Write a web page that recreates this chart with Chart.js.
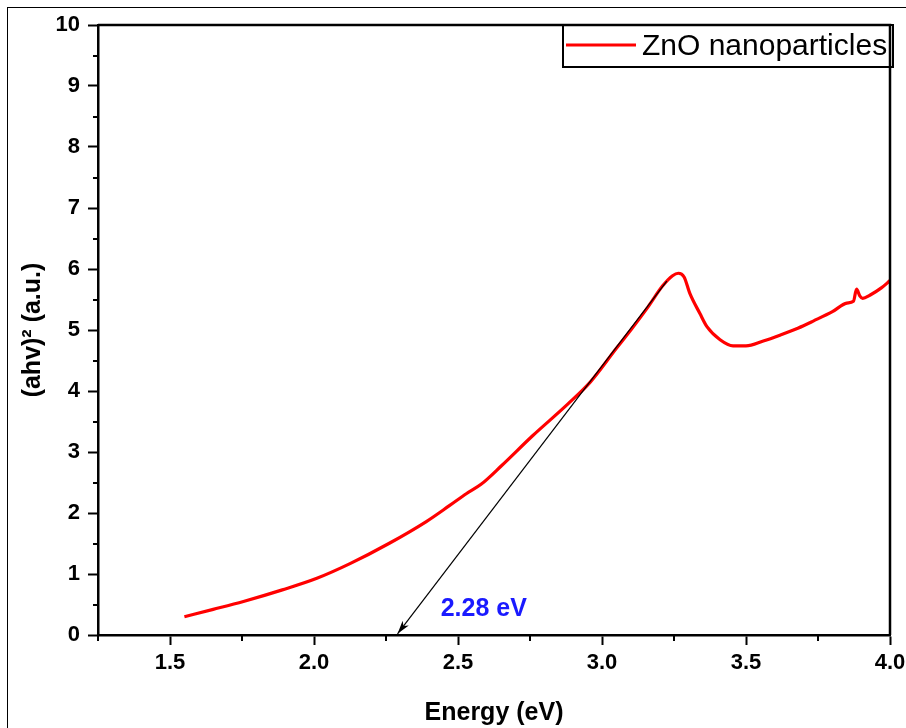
<!DOCTYPE html>
<html lang="en">
<head>
    <meta charset="utf-8" />
    <title>ZnO Tauc plot</title>
    <style>
        html, body {
            margin: 0;
            padding: 0;
            background: #fff;
            overflow: hidden;
        }
        .frame {
            position: absolute;
            left: 7px;
            top: 7px;
            width: 1000px;
            height: 1000px;
            border: 1.5px solid #000;
        }
        .wrap {
            position: absolute;
            left: 0;
            top: 0;
            width: 906px;
            height: 728px;
        }
    </style>
</head>
<body>
    <div class="frame"></div>
    <div class="wrap">
        <canvas id="myChart" width="906" height="728"></canvas>
    </div>

    <script src="https://cdn.jsdelivr.net/npm/chart.js@4.4.0/dist/chart.umd.min.js"></script>
    <script>
        // curve
        var energy = [1.55, 1.65, 1.755, 1.89, 2.01, 2.125, 2.26, 2.39, 2.47, 2.53, 2.58, 2.65, 2.76, 2.88, 2.96,
                      3.05, 3.10, 3.16, 3.21, 3.245, 3.265, 3.285, 3.305, 3.34, 3.365, 3.41, 3.455, 3.50, 3.56,
                      3.62, 3.68, 3.735, 3.80, 3.85, 3.873, 3.884, 3.895, 3.905, 3.93, 3.97, 4.00];
        var ahv2 = [0.30, 0.42, 0.55, 0.74, 0.93, 1.17, 1.50, 1.86, 2.12, 2.32, 2.47, 2.77, 3.27, 3.78, 4.15,
                    4.70, 5.00, 5.38, 5.72, 5.89, 5.93, 5.87, 5.60, 5.27, 5.05, 4.84, 4.74, 4.74, 4.82,
                    4.92, 5.03, 5.15, 5.30, 5.44, 5.47, 5.67, 5.56, 5.52, 5.57, 5.69, 5.81];

        // tangent line, ends at the gap value
        var tangentE = [3.225, 2.29];
        var tangentV = [5.80, 0.02];

        var xTickLabels = ["1.5", "2.0", "2.5", "3.0", "3.5", "4.0"];
        var yTickLabels = ["0", "1", "2", "3", "4", "5", "6", "7", "8", "9", "10"];
        var xMinor = [1.25, 1.75, 2.25, 2.75, 3.25, 3.75];
        var yMinor = [0.5, 1.5, 2.5, 3.5, 4.5, 5.5, 6.5, 7.5, 8.5, 9.5];

        var gapLabel = "2.28 eV";
        var gapLabelAt = [2.44, 0.31];

        var seriesName = "ZnO nanoparticles";

        var curve = energy.map(function (e, i) { return { x: e, y: ahv2[i] }; });
        var tangent = tangentE.map(function (e, i) { return { x: e, y: tangentV[i] }; });

        var fontFam = "'Liberation Sans', Arial, sans-serif";

        var extras = {
            id: "extras",
            afterDraw: function (chart) {
                var ctx = chart.ctx;
                var a = chart.chartArea;
                var xs = chart.scales.x;
                var ys = chart.scales.y;
                ctx.save();

                // minor ticks
                ctx.strokeStyle = "#000";
                ctx.lineWidth = 2;
                xMinor.forEach(function (v) {
                    var px = Math.round(xs.getPixelForValue(v));
                    ctx.beginPath();
                    ctx.moveTo(px, a.bottom);
                    ctx.lineTo(px, a.bottom + 6);
                    ctx.stroke();
                });
                yMinor.forEach(function (v) {
                    var py = Math.round(ys.getPixelForValue(v));
                    ctx.beginPath();
                    ctx.moveTo(a.left, py);
                    ctx.lineTo(a.left - 5, py);
                    ctx.stroke();
                });

                // top / right frame
                ctx.lineWidth = 2.5;
                ctx.beginPath();
                ctx.moveTo(a.left, a.top);
                ctx.lineTo(a.right, a.top);
                ctx.lineTo(a.right, a.bottom);
                ctx.stroke();

                // arrow head at the tangent tip
                var x1 = xs.getPixelForValue(tangentE[0]), y1 = ys.getPixelForValue(tangentV[0]);
                var x2 = xs.getPixelForValue(tangentE[1]), y2 = ys.getPixelForValue(tangentV[1]);
                var ang = Math.atan2(y2 - y1, x2 - x1);
                var len = 14, half = 0.28;
                ctx.fillStyle = "#000";
                ctx.beginPath();
                ctx.moveTo(x2, y2);
                ctx.lineTo(x2 - len * Math.cos(ang - half), y2 - len * Math.sin(ang - half));
                ctx.lineTo(x2 - len * 0.7 * Math.cos(ang), y2 - len * 0.7 * Math.sin(ang));
                ctx.lineTo(x2 - len * Math.cos(ang + half), y2 - len * Math.sin(ang + half));
                ctx.closePath();
                ctx.fill();

                // gap label
                ctx.fillStyle = "#1a1aff";
                ctx.font = "bold 25px " + fontFam;
                ctx.textAlign = "left";
                ctx.textBaseline = "alphabetic";
                ctx.fillText(gapLabel, xs.getPixelForValue(gapLabelAt[0]), ys.getPixelForValue(gapLabelAt[1]));

                // legend box
                var bx = 563, by = a.top, bw = a.right + 3 - 563, bh = 42;
                ctx.lineWidth = 2;
                ctx.strokeStyle = "#000";
                ctx.strokeRect(bx, by, bw, bh);
                ctx.strokeStyle = chart.data.datasets[0].borderColor;
                ctx.lineWidth = 3;
                ctx.beginPath();
                ctx.moveTo(bx + 3, by + 20);
                ctx.lineTo(bx + 73, by + 20);
                ctx.stroke();
                ctx.fillStyle = "#000";
                ctx.font = "30px " + fontFam;
                ctx.textBaseline = "alphabetic";
                ctx.fillText(chart.data.datasets[0].label, bx + 79, by + 30);

                ctx.restore();
            }
        };

        new Chart("myChart", {
            type: "line",
            data: {
                datasets: [{
                    label: seriesName,
                    data: curve,
                    borderColor: "#ff0000",
                    borderWidth: 3.2,
                    pointRadius: 0,
                    cubicInterpolationMode: "monotone",
                    order: 2
                }, {
                    label: "tangent",
                    data: tangent,
                    borderColor: "#000",
                    borderWidth: 1.2,
                    pointRadius: 0,
                    order: 1
                }]
            },
            options: {
                responsive: false,
                animation: false,
                events: [],
                layout: { padding: { left: 0, top: 25, right: 16, bottom: 0 } },
                plugins: {
                    legend: { display: false },
                    tooltip: { enabled: false }
                },
                scales: {
                    x: {
                        type: "linear",
                        min: 1.25,
                        max: 4.0,
                        afterFit: function (s) { s.height = 93; s.paddingRight = 0; },
                        afterBuildTicks: function (s) {
                            s.ticks = xTickLabels.map(function (t) { return { value: parseFloat(t) }; });
                        },
                        ticks: {
                            autoSkip: false,
                            maxRotation: 0,
                            padding: 5,
                            color: "#000",
                            font: { family: fontFam, size: 22, weight: "bold" },
                            callback: function (v) { return Number(v).toFixed(1); }
                        },
                        grid: {
                            drawOnChartArea: false,
                            drawTicks: true,
                            tickLength: 10,
                            tickWidth: 2,
                            tickColor: "#000"
                        },
                        border: { display: true, color: "#000", width: 2.5 },
                        title: {
                            display: true,
                            text: "Energy (eV)",
                            color: "#000",
                            font: { family: fontFam, size: 25, weight: "bold" },
                            padding: { top: 0, bottom: 0 }
                        }
                    },
                    y: {
                        type: "linear",
                        min: 0,
                        max: 10,
                        afterFit: function (s) { s.width = 98; },
                        afterBuildTicks: function (s) {
                            s.ticks = yTickLabels.map(function (t) { return { value: parseFloat(t) }; });
                        },
                        ticks: {
                            autoSkip: false,
                            padding: 8,
                            color: "#000",
                            font: { family: fontFam, size: 22, weight: "bold" },
                            callback: function (v) { return String(v); }
                        },
                        grid: {
                            drawOnChartArea: false,
                            drawTicks: true,
                            tickLength: 10,
                            tickWidth: 2,
                            tickColor: "#000"
                        },
                        border: { display: true, color: "#000", width: 2.5 },
                        title: {
                            display: true,
                            text: "(ahv)\u00B2 (a.u.)",
                            color: "#000",
                            font: { family: fontFam, size: 25, weight: "bold" },
                            padding: { top: 18, bottom: 18 }
                        }
                    }
                }
            },
            plugins: [extras]
        });
    </script>
</body>
</html>
